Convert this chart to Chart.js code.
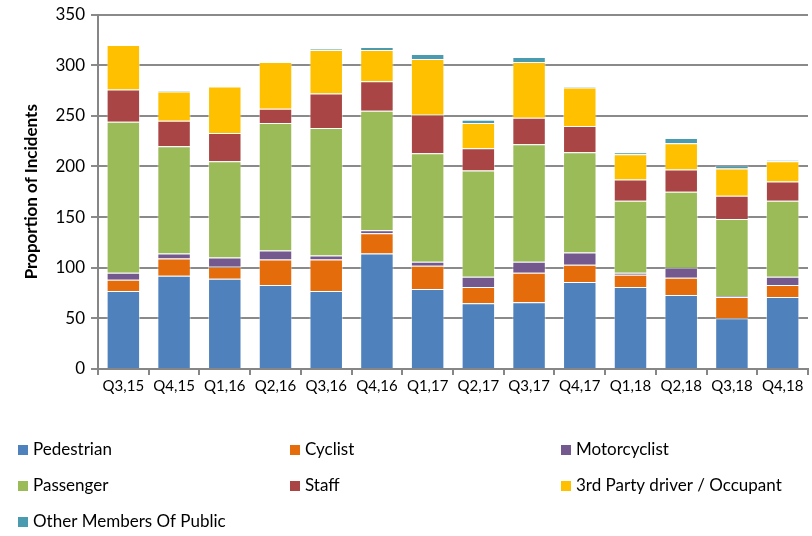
<!DOCTYPE html>
<html>
<head>
<meta charset="utf-8">
<script src="https://cdn.jsdelivr.net/npm/chart.js"></script>
<style>
  html, body { margin: 0; padding: 0; background: #fff; }
  #wrap { width: 812px; height: 536px; position: relative; }
</style>
</head>
<body>
<div id="wrap"><canvas id="myChart" width="812" height="536"></canvas></div>
<script>
const quarters = ["Q3,15", "Q4,15", "Q1,16", "Q2,16", "Q3,16", "Q4,16", "Q1,17",
  "Q2,17", "Q3,17", "Q4,17", "Q1,18", "Q2,18", "Q3,18", "Q4,18"];

const pedestrian = [77, 92, 89, 83, 77, 114, 79, 65, 66, 86, 81, 73, 50, 71];
const cyclist = [11, 17, 12, 25, 31, 20, 23, 16, 29, 17, 12, 17, 21, 12];
const motorcyclist = [7, 5, 9, 9, 4, 3, 4, 10, 11, 12, 2, 10, 1, 8];
const passenger = [149, 106, 95, 126, 126, 118, 107, 105, 116, 99, 71, 75, 76, 75];
const staff = [32, 25, 28, 14, 34, 29, 38, 22, 26, 26, 21, 22, 23, 19];
const thirdParty = [44, 29, 46, 46, 43, 31, 55, 25, 55, 38, 25, 26, 27, 20];
const otherPublic = [0, 1, 0, 0, 1, 3, 5, 3, 5, 1, 2, 5, 3, 1];

const yTicks = [0, 50, 100, 150, 200, 250, 300, 350];

const FONT = "Lato, 'Open Sans', sans-serif";

const series = [
  { label: "Pedestrian", data: pedestrian, color: "#4F81BD" },
  { label: "Cyclist", data: cyclist, color: "#E46C0A" },
  { label: "Motorcyclist", data: motorcyclist, color: "#74598F" },
  { label: "Passenger", data: passenger, color: "#9BBB59" },
  { label: "Staff", data: staff, color: "#A94544" },
  { label: "3rd Party driver / Occupant", data: thirdParty, color: "#FFC000" },
  { label: "Other Members Of Public", data: otherPublic, color: "#4A9BB0" },
];

// legend in three columns below the plot
const gridLegend = {
  id: "gridLegend",
  afterDraw(chart) {
    const ctx = chart.ctx;
    const colX = [18, 290, 561];
    const rowY = [450, 486, 522];
    ctx.save();
    ctx.font = "17px " + FONT;
    ctx.textBaseline = "middle";
    chart.data.datasets.forEach((ds, i) => {
      const x = colX[i % 3];
      const y = rowY[Math.floor(i / 3)];
      ctx.fillStyle = ds.backgroundColor;
      ctx.fillRect(x, y - 5, 10, 10);
      ctx.fillStyle = "#000";
      ctx.fillText(ds.label, x + 15, y);
    });
    ctx.restore();
  },
};

const ctx = document.getElementById("myChart").getContext("2d");
new Chart(ctx, {
  type: "bar",
  data: {
    labels: quarters,
    datasets: series.map((s) => ({
      label: s.label,
      data: s.data,
      backgroundColor: s.color,
      borderColor: "rgba(255,255,255,0.45)",
      borderWidth: 1,
      barPercentage: 0.66,
      categoryPercentage: 1,
    })),
  },
  options: {
    responsive: false,
    animation: false,
    layout: { padding: { top: 14, right: 4, left: 21, bottom: 0 } },
    plugins: {
      legend: { display: false },
      tooltip: { enabled: false },
    },
    scales: {
      x: {
        stacked: true,
        afterFit: (scale) => { scale.height = 167; },
        border: { color: "#868686", width: 2 },
        grid: {
          offset: true,
          drawOnChartArea: false,
          color: "#868686",
          lineWidth: 2,
          tickLength: 6,
        },
        ticks: {
          color: "#000",
          font: { family: FONT, size: 15 },
          maxRotation: 0,
          autoSkip: false,
          padding: 2,
        },
      },
      y: {
        stacked: true,
        min: 0,
        max: 350,
        afterFit: (scale) => { scale.width = 77; },
        afterBuildTicks: (scale) => { scale.ticks = yTicks.map((v) => ({ value: v })); },
        border: { color: "#868686", width: 2 },
        grid: {
          color: "#8a8a8a",
          lineWidth: 2,
          tickLength: 7,
        },
        ticks: {
          color: "#000",
          font: { family: FONT, size: 17, lineHeight: 1 },
          padding: 6,
        },
        title: {
          display: true,
          text: "Proportion of Incidents",
          color: "#000",
          font: { family: FONT, size: 17, weight: "bold" },
          padding: { top: 0, bottom: 0 },
        },
      },
    },
  },
  plugins: [gridLegend],
});
</script>
</body>
</html>
